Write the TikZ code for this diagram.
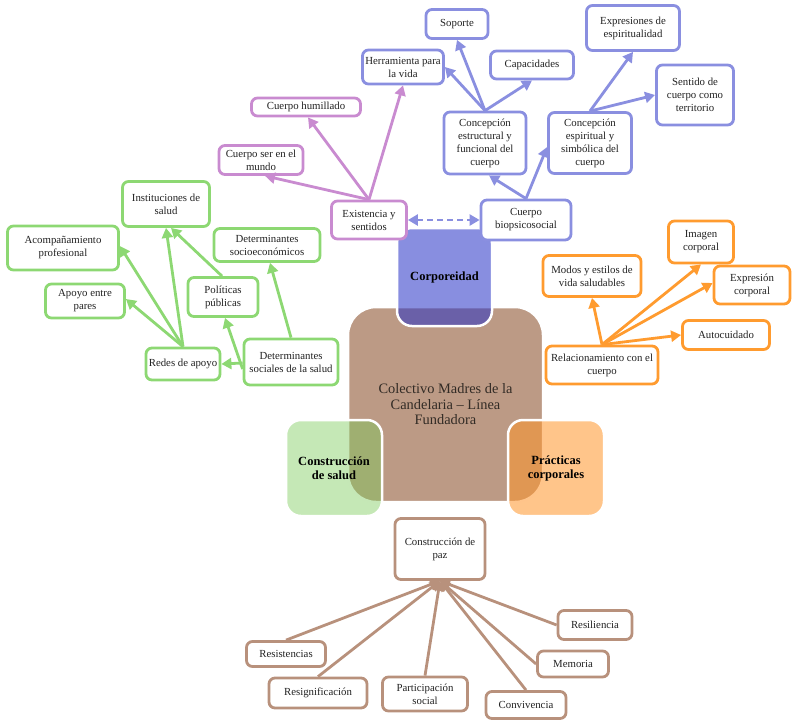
\documentclass[tikz,border=0pt]{standalone}
\usepackage{fontspec}
\setmainfont{Liberation Serif}
\usetikzlibrary{arrows.meta}
\definecolor{cblue}{HTML}{8A8FE0}
\definecolor{cpurp}{HTML}{C98BD0}
\definecolor{cgreen}{HTML}{8DD873}
\definecolor{corange}{HTML}{FF9B2F}
\definecolor{cbrown}{HTML}{B8917C}
\definecolor{brownfill}{HTML}{BC9A85}
\definecolor{corpfill}{HTML}{2732C6}
\definecolor{saludfill}{HTML}{7BCA59}
\definecolor{pracfill}{HTML}{FF952A}
\definecolor{txt}{HTML}{222222}
\tikzset{
  box/.style={draw, line width=2.8pt, rounded corners=6pt, fill=white, align=center,
    font=\fontsize{10.8}{13}\selectfont, text=txt, inner sep=1pt},
  bbox/.style={box, draw=cblue},
  pbox/.style={box, draw=cpurp},
  gbox/.style={box, draw=cgreen},
  obox/.style={box, draw=corange},
  nbox/.style={box, draw=cbrown},
  sz/.style n args={2}{minimum width=#1pt, minimum height=#2pt},
  arr/.style={line width=2.8pt, -{Triangle[length=10pt,width=11pt]}},
  bigsq/.style={draw=white, line width=2.5pt, rounded corners=15pt, align=center,
    fill opacity=0.55, text opacity=1, text=black,
    font=\fontsize{12.5}{14}\selectfont\bfseries}
}
\begin{document}
\begin{tikzpicture}[x=1pt,y=-1pt]
\useasboundingbox (0,0) rectangle (800,724);
% central boxes
\node[draw=white, line width=2.5pt, fill=brownfill, rounded corners=28pt, sz={195}{195},
  align=center, text=txt!90!brown, font=\fontsize{14.4}{15.5}\selectfont] (centro) at (445.5,404.5)
  {Colectivo Madres de la\\Candelaria – Línea\\Fundadora};
\node[bigsq, fill=corpfill, sz={95}{98}] (corp) at (444.5,277) {Corporeidad};
\node[bigsq, fill=saludfill, fill opacity=0.44, sz={96}{96}] (salud) at (334,468) {Construcción\\de salud};
\node[bigsq, fill=pracfill, sz={96}{96}] (prac) at (556,468) {Prácticas\\corporales};

% blue nodes
\node[bbox, sz={62}{29}] (sop) at (457,24) {Soporte};
\node[bbox, sz={81}{34}] (herr) at (403,67) {Herramienta para\\la vida};
\node[bbox, sz={83}{28}] (cap) at (532,65) {Capacidades};
\node[bbox, sz={93}{45}] (expr) at (633,28) {Expresiones de\\espiritualidad};
\node[bbox, sz={77}{60}] (sent) at (695,95) {Sentido de\\cuerpo como\\territorio};
\node[bbox, sz={82}{62}] (estr) at (485,143) {Concepción\\estructural y\\funcional del\\cuerpo};
\node[bbox, sz={83}{61}] (esp) at (590,143) {Concepción\\espiritual y\\simbólica del\\cuerpo};
\node[bbox, sz={90}{40}] (bio) at (526,220) {Cuerpo\\biopsicosocial};
% purple nodes
\node[pbox, sz={109}{18}] (hum) at (306,107) {Cuerpo humillado};
\node[pbox, sz={84}{29}] (ser) at (261,160) {Cuerpo ser en el\\mundo};
\node[pbox, sz={75}{38}] (exist) at (369,220) {Existencia y\\sentidos};
% green nodes
\node[gbox, sz={87}{45}] (inst) at (166,204) {Instituciones de\\salud};
\node[gbox, sz={111}{44}] (acomp) at (63,248) {Acompañamiento\\profesional};
\node[gbox, sz={106}{33}] (socio) at (267,245) {Determinantes\\socioeconómicos};
\node[gbox, sz={79}{34}] (apoyo) at (85,301) {Apoyo entre\\pares};
\node[gbox, sz={70}{39}] (pol) at (223,297) {Políticas\\públicas};
\node[gbox, sz={74}{32}] (redes) at (183,364) {Redes de apoyo};
\node[gbox, sz={94}{46}] (ds) at (291,362) {Determinantes\\sociales de la salud};
% orange nodes
\node[obox, sz={65}{42}] (imag) at (701,242) {Imagen\\corporal};
\node[obox, sz={98}{41}] (modos) at (592,276) {Modos y estilos de\\vida saludables};
\node[obox, sz={76}{38}] (expc) at (752,285) {Expresión\\corporal};
\node[obox, sz={87}{29}] (auto) at (726,335) {Autocuidado};
\node[obox, sz={112}{38}] (rel) at (602,365) {Relacionamiento con el\\cuerpo};
% brown nodes
\node[nbox, sz={90}{61}] (paz) at (440,549) {Construcción de\\paz};
\node[nbox, sz={74}{29}] (resil) at (595,625) {Resiliencia};
\node[nbox, sz={79}{25}] (resist) at (286,654) {Resistencias};
\node[nbox, sz={71}{26}] (mem) at (573,664) {Memoria};
\node[nbox, sz={98}{30}] (resig) at (318,693) {Resignificación};
\node[nbox, sz={85}{34}] (partic) at (425,694) {Participación\\social};
\node[nbox, sz={80}{27}] (conv) at (526,705) {Convivencia};

% blue edges
\draw[arr, cblue] (bio.north) -- ([xshift=4pt]estr.south);
\draw[arr, cblue] (bio.north) -- ([yshift=-4pt]esp.west);
\draw[arr, cblue] (estr.north) -- (sop.south);
\draw[arr, cblue] (estr.north) -- (herr.east);
\draw[arr, cblue] (estr.north) -- (cap.south);
\draw[arr, cblue] (esp.north) -- (expr.south);
\draw[arr, cblue] (esp.north) -- (sent.west);
\draw[line width=2.8pt, cblue, dash pattern=on 6pt off 4pt,
  {Triangle[length=10pt,width=11pt]}-{Triangle[length=10pt,width=11pt]}] (exist.east) -- (bio.west);
% purple edges
\draw[arr, cpurp] (exist.north) -- ([xshift=2pt]hum.south);
\draw[arr, cpurp] (exist.north) -- ([xshift=4pt]ser.south);
\draw[arr, cpurp] (exist.north) -- (herr.south);
% green edges
\draw[arr, cgreen] (redes.north) -- (inst.south);
\draw[arr, cgreen] (redes.north) -- ([yshift=2pt]acomp.east);
\draw[arr, cgreen] (redes.north) -- ([yshift=2pt]apoyo.east);
\draw[arr, cgreen] ([xshift=-1pt]pol.north) -- ([xshift=5pt]inst.south);
\draw[arr, cgreen] ([yshift=-7pt]ds.west) -- ([xshift=2pt]pol.south);
\draw[arr, cgreen] ([yshift=-1pt]ds.west) -- (redes.east);
\draw[arr, cgreen] (ds.north) -- ([xshift=3pt]socio.south);
% orange edges
\draw[arr, corange] (rel.north) -- (modos.south);
\draw[arr, corange] (rel.north) -- (imag.south);
\draw[arr, corange] (rel.north) -- ([yshift=2pt]expc.west);
\draw[arr, corange] (rel.north) -- (auto.west);
% brown edges
\draw[arr, cbrown] (resist.north) -- (paz.south);
\draw[arr, cbrown] (resig.north) -- (paz.south);
\draw[arr, cbrown] (partic.north) -- (paz.south);
\draw[arr, cbrown] (conv.north) -- (paz.south);
\draw[arr, cbrown] (mem.west) -- (paz.south);
\draw[arr, cbrown] (resil.west) -- (paz.south);
\end{tikzpicture}
\end{document}
